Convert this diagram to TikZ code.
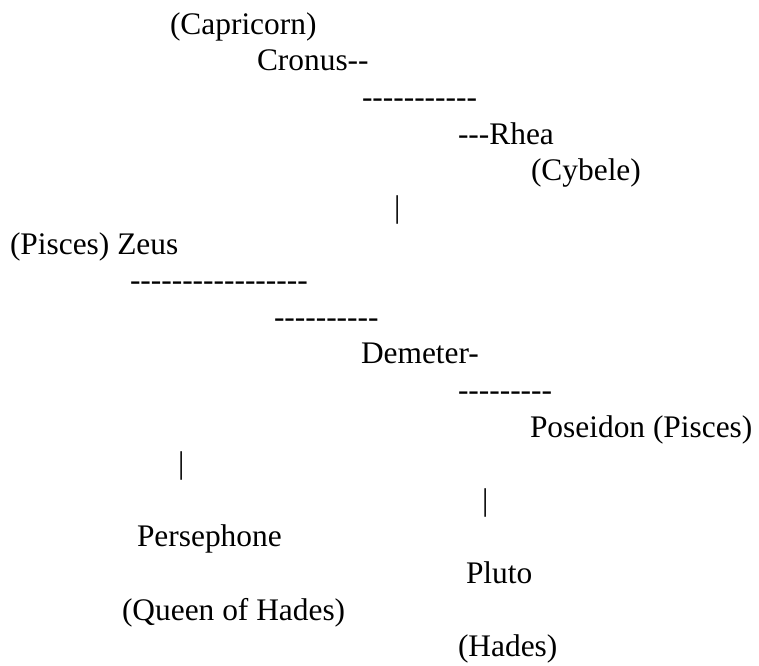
\documentclass[tikz,border=0pt]{standalone}
\usepackage{fontspec}
\newfontfamily\tnr{Liberation Serif}
\newcommand{\dsh}[1]{\foreach \i in {1,...,#1}{-\kern0pt}}
\tikzset{
  txt/.style={anchor=base west, inner sep=0pt, outer sep=0pt,
    font=\tnr\fontsize{31.4}{36}\selectfont, text=black}
}
\begin{document}
\begin{tikzpicture}[x=1pt,y=-1pt]
\useasboundingbox[fill=white] (0,0) rectangle (759,665);
\node[txt] (capricorn) at (170,34) {(Capricorn)};
\node[txt] (cronus) at (257,70.6) {Cronus\dsh{2}};
\node[txt] (d1) at (362,107) {\dsh{11}};
\node[txt] (rhea) at (458,144) {\dsh{3}Rhea};
\node[txt] (cybele) at (531,180) {(Cybele)};
\node[txt] (bar1) at (394,217) {|};
\node[txt] (zeus) at (10,254) {(Pisces) Zeus};
\node[txt] (d2) at (130,290) {\dsh{17}};
\node[txt] (d3) at (274,327) {\dsh{10}};
\node[txt] (demeter) at (361,363) {Demeter\dsh{1}};
\node[txt] (d4) at (458,400) {\dsh{9}};
\node[txt] (poseidon) at (530,437) {Poseidon (Pisces)};
\node[txt] (bar2) at (178,473) {|};
\node[txt] (bar3) at (482,510) {|};
\node[txt] (persephone) at (137,546) {Persephone};
\node[txt] (pluto) at (466,583) {Pluto};
\node[txt] (queen) at (122,620) {(Queen of Hades)};
\node[txt] (hades) at (458,656) {(Hades)};
\end{tikzpicture}
\end{document}
